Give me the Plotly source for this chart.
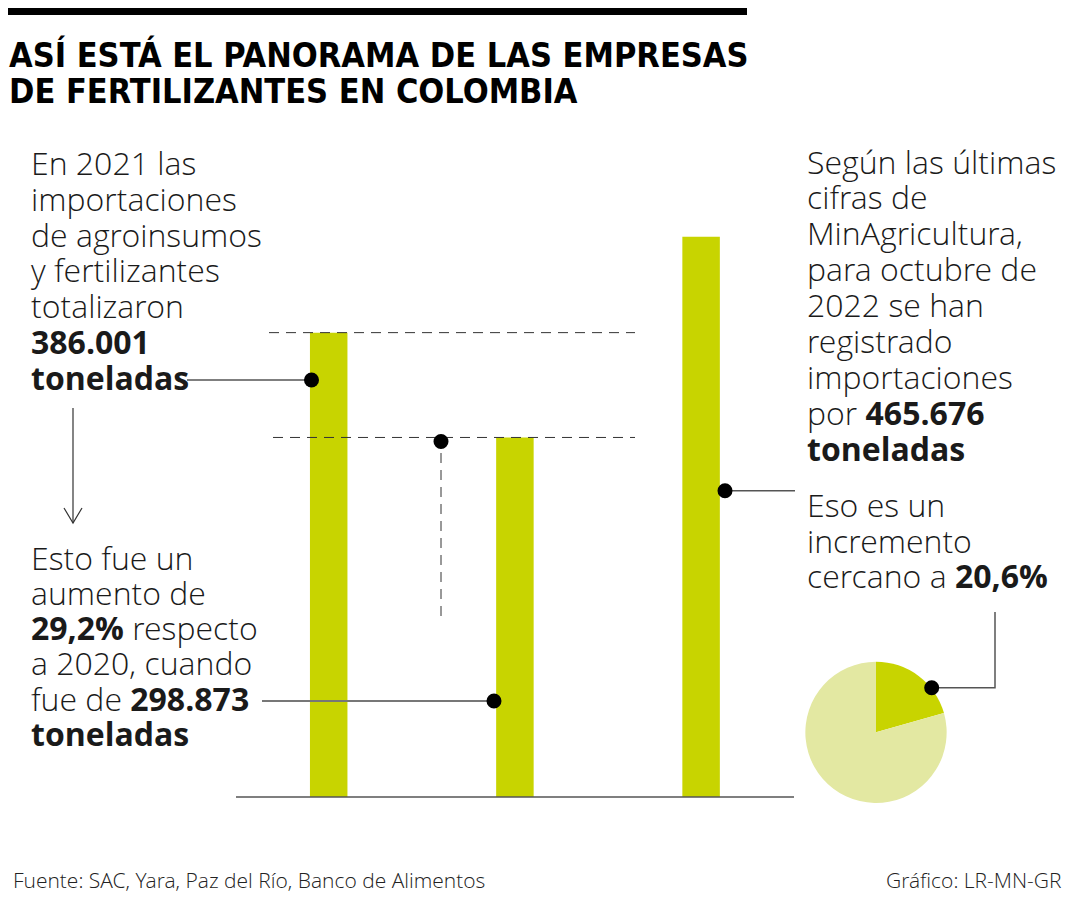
import plotly.graph_objects as go

# ---------------- data ----------------
years = ["2021", "2020", "2022"]
tons = [386001, 298873, 465676]
pie_labels = ["Incremento", "Resto"]
pie_values = [20.6, 79.4]

title_lines = ["ASÍ ESTÁ EL PANORAMA DE LAS EMPRESAS", "DE FERTILIZANTES EN COLOMBIA"]
block1 = ["En 2021 las", "importaciones", "de agroinsumos", "y fertilizantes",
          "totalizaron", "<b>386.001</b>", "<b>toneladas</b>"]
block2 = ["Esto fue un", "aumento de", "<b>29,2%</b> respecto", "a 2020, cuando",
          "fue de <b>298.873</b>", "<b>toneladas</b>"]
block3 = ["Según las últimas", "cifras de", "MinAgricultura,", "para octubre de",
          "2022 se han", "registrado", "importaciones", "por <b>465.676</b>", "<b>toneladas</b>"]
block4 = ["Eso es un", "incremento", "cercano a <b>20,6%</b>"]
source = "Fuente: SAC, Yara, Paz del Río, Banco de Alimentos"
credit = "Gráfico: LR-MN-GR"

# ---------------- style ----------------
W, H = 1080, 900
OFF = 8                  # page body margin offset
BAR = "#c8d400"
PIE_LIGHT = "#e3e8a2"
BODY = "Open Sans Light, Open Sans, Noto Sans, sans-serif"
BOLD_SPAN = "<span style=\"font-family:'Open Sans',sans-serif;font-weight:700\">"
TITLE = "Liberation Sans Narrow, DejaVu Sans Condensed, Arial Narrow, sans-serif"
BASE_PX = 797.0          # baseline pixel row (screen)
K = 0.001203             # px per tonne
X0_PX, STEP_PX = 328.7, 186.2
BAR_W_PX = 37.5

fig = go.Figure()
fig.add_trace(go.Bar(x=years, y=tons, marker=dict(color=BAR, line=dict(width=0)),
                     width=BAR_W_PX / STEP_PX, hoverinfo="skip", showlegend=False))
fig.add_trace(go.Pie(labels=pie_labels, values=pie_values, sort=False, direction="clockwise",
                     rotation=0, marker=dict(colors=[BAR, PIE_LIGHT], line=dict(width=0)),
                     textinfo="none", hoverinfo="skip", showlegend=False,
                     domain=dict(x=[(805.3 - OFF) / W, (946.7 - OFF) / W],
                                 y=[1 - (803 - OFF) / H, 1 - (661.7 - OFF) / H])))
# pixel overlay axis for decorations
fig.add_trace(go.Scatter(x=[OFF], y=[OFF], xaxis="x2", yaxis="y2", mode="markers",
                         marker=dict(opacity=0), hoverinfo="skip", showlegend=False))

xr = [-(X0_PX - OFF) / STEP_PX, (W - (X0_PX - OFF)) / STEP_PX]
yr = [-(H - (BASE_PX - OFF)) / K, (BASE_PX - OFF) / K]

shapes = []
def line(x0, y0, x1, y1, color="#555", width=1.5, dash=None, yref="y2"):
    d = dict(type="line", xref="x2", yref=yref, x0=x0, y0=y0, x1=x1, y1=y1,
             line=dict(color=color, width=width), layer="above")
    if dash:
        d["line"]["dash"] = dash
    shapes.append(d)

def dot(x, y, r=7.5):
    shapes.append(dict(type="circle", xref="x2", yref="y2", x0=x - r, x1=x + r, y0=y - r, y1=y + r,
                       fillcolor="black", line=dict(width=0), layer="above"))

# top black rule
shapes.append(dict(type="rect", xref="x2", yref="y2", x0=8, x1=747, y0=8, y1=15,
                   fillcolor="black", line=dict(width=0)))
# baseline
line(236, BASE_PX, 794, BASE_PX, color="#555", width=1.5)
# dashed reference lines at bar heights
line(269, tons[0], 635, tons[0], color="#333", width=1, dash="10px,7px", yref="y")
line(273, tons[1], 635, tons[1], color="#333", width=1, dash="10px,7px", yref="y")
line(441, 453, 441, 623, color="#333", width=1, dash="10px,7px")
dot(441, 441.5)
# block 1 leader
line(187, 380, 311, 380, color="#555", width=1.5)
dot(311.5, 380)
# arrow
line(73, 408, 73, 523, color="#333", width=1.2)
shapes.append(dict(type="path", xref="x2", yref="y2", path="M 64 508 L 73 523 L 82 508",
                   line=dict(color="#333", width=1.2)))
# block 2 leader
line(262, 701, 494, 701, color="#777", width=2)
dot(494, 701)
# block 3 leader
line(725, 490.7, 795, 490.7, color="#555", width=1.5)
dot(725, 490.7)
# pie leader
shapes.append(dict(type="path", xref="x2", yref="y2", path="M 931.7 687.7 L 995 687.7 L 995 612",
                   line=dict(color="#555", width=1.5), layer="above"))
dot(931.7, 687.7)

annotations = []
def text(x, baseline, s, size=32, family=BODY, color="#1a1a1a", anchor="left", weight=300, asc=0.388):
    annotations.append(dict(x=x, y=baseline - asc * size, xref="x2", yref="y2", text=s,
                            showarrow=False, xanchor=anchor, yanchor="middle",
                            font=dict(family=family, size=size, color=color, weight=weight),
                            borderpad=0))

def body(s):
    return s.replace("<b>", BOLD_SPAN).replace("</b>", "</span>")

for i, t in enumerate(title_lines):
    text(8, 67 + i * 35.5, "<b>" + t + "</b>", size=34, family=TITLE, color="black", weight=700, asc=0.3465)
for i, t in enumerate(block1):
    text(30, 175 + i * 35.8, body(t))
for i, t in enumerate(block2):
    text(30, 569.5 + i * 35.3, body(t))
for i, t in enumerate(block3):
    text(806, 173.5 + i * 35.9, body(t))
for i, t in enumerate(block4):
    text(806, 517 + i * 35.7, body(t))
text(12, 888, source, size=21, color="#222")
text(1063, 888, credit, size=21, color="#222", anchor="right")

fig.update_layout(
    width=W, height=H, margin=dict(l=0, r=0, t=0, b=0),
    paper_bgcolor="white", plot_bgcolor="white",
    xaxis=dict(type="category", range=xr, domain=[0, 1], visible=False, fixedrange=True),
    yaxis=dict(range=yr, domain=[0, 1], visible=False, fixedrange=True),
    xaxis2=dict(range=[OFF, W + OFF], domain=[0, 1], overlaying="x", anchor="y2", visible=False, fixedrange=True),
    yaxis2=dict(range=[H + OFF, OFF], domain=[0, 1], overlaying="y", anchor="x2", visible=False, fixedrange=True),
    shapes=shapes, annotations=annotations, showlegend=False,
)
fig.write_html("out.html", config={"displayModeBar": False})
